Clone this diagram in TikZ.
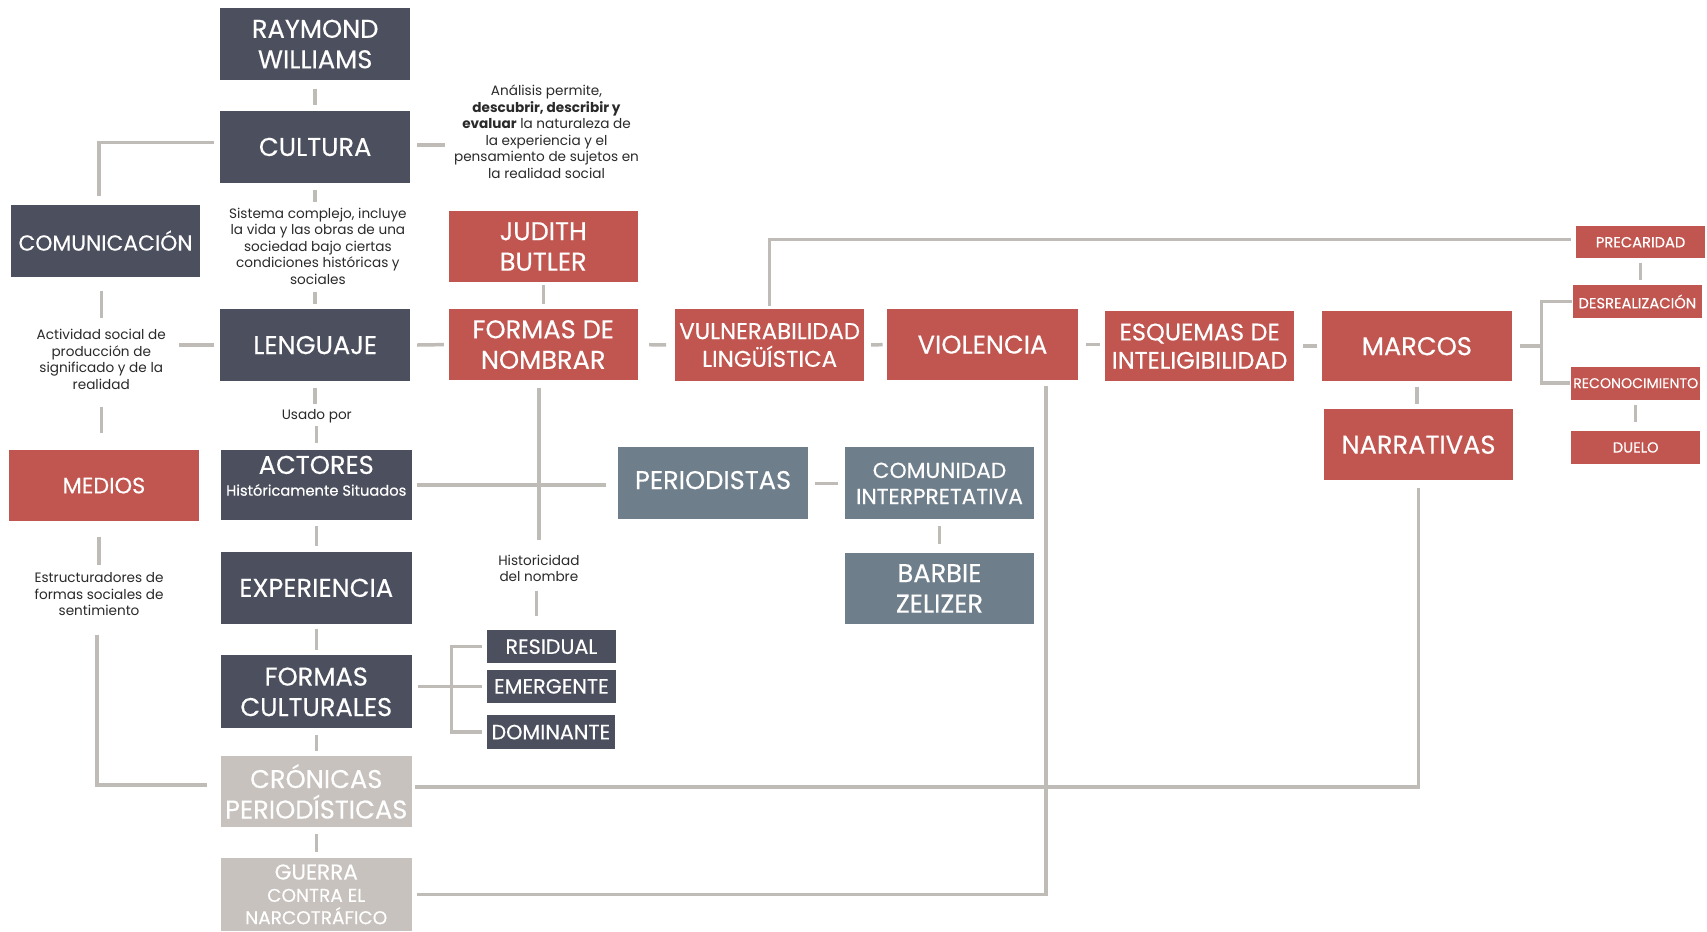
\documentclass[tikz,border=0pt]{standalone}
\usepackage{fontspec}
\setmainfont{Poppins}
\newfontfamily\bxfont{Poppins}[FakeBold=0.35]
\definecolor{dk}{HTML}{4C4F5E}
\definecolor{rd}{HTML}{C1554F}
\definecolor{sl}{HTML}{6F7E8B}
\definecolor{lg}{HTML}{C7C2BD}
\definecolor{ln}{HTML}{BFBBB7}
\definecolor{tx}{HTML}{2A2A2A}
\tikzset{
  bx/.style={inner sep=0pt, align=center, text=white, minimum width=175pt, minimum height=66pt},
  dkb/.style={bx, fill=dk},
  rdb/.style={bx, fill=rd},
  slb/.style={bx, fill=sl},
  lgb/.style={bx, fill=lg},
  big/.style={font=\bxfont\fontsize{23.6}{28}\selectfont},
  mid/.style={font=\bxfont\fontsize{20}{24}\selectfont},
  tri/.style={font=\bxfont\fontsize{19}{22}\selectfont},
  sml/.style={font=\bxfont\fontsize{13.5}{15}\selectfont},
  ann/.style={inner sep=2pt, align=center, text=tx, font=\fontsize{12.5}{15.2}\selectfont},
  conn/.style={draw=ln, line width=3.2pt},
}
\begin{document}
\begin{tikzpicture}[x=1pt,y=-1pt]
\useasboundingbox[fill=white] (0,0) rectangle (1568,856);

% boxes
\node[dkb,big] (ray) at (289.5,40.5) {RAYMOND\\WILLIAMS};
\node[dkb,big] (cul) at (289.5,135) {CULTURA};
\node[dkb,minimum width=174pt,font=\bxfont\fontsize{20}{24}\selectfont] (com) at (97,221) {COMUNICACIÓN};
\node[rdb,big,minimum width=174pt,minimum height=65pt] (jud) at (499,226.5) {JUDITH\\BUTLER};
\node[dkb,big] (len) at (289.5,317) {LENGUAJE};
\node[rdb,big,minimum width=174pt,minimum height=65pt] (fdn) at (499,316.5) {FORMAS DE\\NOMBRAR};
\node[rdb,minimum width=174pt,font=\bxfont\fontsize{21}{25.5}\selectfont] (vul) at (707,317) {VULNERABILIDAD\\LINGÜÍSTICA};
\node[rdb,big,minimum height=65pt] (vio) at (902.5,316.5) {VIOLENCIA};
\node[rdb,minimum width=174pt,minimum height=64pt,font=\bxfont\fontsize{22}{26}\selectfont] (esq) at (1102,318) {ESQUEMAS DE\\INTELIGIBILIDAD};
\node[rdb,big,minimum height=64pt] (mar) at (1301.5,318) {MARCOS};
\node[rdb,sml,minimum width=118pt,minimum height=29pt] (pre) at (1507,222.5) {PRECARIDAD};
\node[rdb,sml,minimum width=118pt,minimum height=30pt] (des) at (1504,277) {DESREALIZACIÓN};
\node[rdb,minimum width=119pt,minimum height=30pt,font=\bxfont\fontsize{13}{15}\selectfont] (rec) at (1502.5,352) {RECONOCIMIENTO};
\node[rdb,sml,minimum width=119pt,minimum height=30pt] (due) at (1502.5,411) {DUELO};
\node[rdb,big,minimum width=174pt,minimum height=65pt] (nar) at (1303,408.5) {NARRATIVAS};
\node[rdb,font=\bxfont\fontsize{20.5}{24}\selectfont] (med) at (95.5,446) {MEDIOS};
\node[dkb,minimum height=65pt,font=\bxfont\fontsize{13.5}{20}\selectfont] (act) at (290.5,445.5) {{\fontsize{23.6}{20}\selectfont ACTORES}\\Históricamente Situados\\[-3pt]};
\node[slb,big,minimum width=174pt] (per) at (655,444) {PERIODISTAS\vphantom{p}};
\node[slb,mid,minimum width=174pt] (comi) at (863,444) {COMUNIDAD\\INTERPRETATIVA};
\node[slb,big,minimum width=174pt,minimum height=65pt] (bar) at (863,540.5) {BARBIE\\ZELIZER};
\node[dkb,big] (exp) at (290.5,540) {EXPERIENCIA};
\node[dkb,big,minimum height=67pt] (foc) at (290.5,635.5) {FORMAS\\CULTURALES};
\node[dkb,tri,minimum width=119pt,minimum height=30pt] (res) at (506.5,594) {RESIDUAL};
\node[dkb,tri,minimum width=119pt,minimum height=31pt] (eme) at (506.5,630.5) {EMERGENTE};
\node[dkb,tri,minimum width=118pt,minimum height=31pt] (dom) at (506,672.5) {DOMINANTE};
\node[lgb,big] (cro) at (290.5,727) {CRÓNICAS\\PERIODÍSTICAS};
\node[lgb,minimum height=67pt,font=\bxfont\fontsize{17}{20.5}\selectfont] (gue) at (290.5,821.5) {{\fontsize{19.8}{20.5}\selectfont GUERRA}\\CONTRA EL\\NARCOTRÁFICO};

% annotations
\node[ann] (ana) at (502,121) {Análisis permite,\\{\bfseries descubrir, describir y}\\{\bfseries evaluar} la naturaleza de\\la experiencia y el\\pensamiento de sujetos en\\la realidad social};
\node[ann] (sis) at (292,226) {Sistema complejo, incluye\\la vida y las obras de una\\sociedad bajo ciertas\\condiciones históricas y\\sociales};
\node[ann] (acts) at (93,330) {Actividad social de\\producción de\\significado y de la\\realidad};
\node[ann] (usa) at (291,382) {Usado por};
\node[ann] (est) at (91,546) {Estructuradores de\\formas sociales de\\sentimiento};
\node[ann] (his) at (495,522) {Historicidad\\del nombre};

% connectors
\draw[conn, shorten <=8pt, shorten >=5pt] (ray) -- (cul);
\draw[conn] ([xshift=-5pt,yshift=4pt]cul.west) -| ([xshift=-6pt,yshift=8pt]com.north);
\draw[conn, shorten <=6pt, shorten >=6pt] ([yshift=2pt]cul.east) -- ([yshift=2pt]cul.east -| ana.west);
\draw[conn, shorten <=6pt, shorten >=3pt] (cul.south) -- (cul.south |- sis.north);
\draw[conn, shorten <=5pt, shorten >=5pt] (len.north |- sis.south) -- (len.north);
\draw[conn, shorten <=13pt, shorten >=8pt] ([xshift=-4pt]com.south) -- ([xshift=-4pt]com.south |- acts.north);
\draw[conn, shorten <=14pt, shorten >=15pt] (acts.south) -- (acts.south |- med.north);
\draw[conn, shorten <=5pt, shorten >=10pt] (len.west) -- (len.west -| acts.east);
\draw[conn, shorten <=6pt, shorten >=4pt] (len.east) -- (fdn.west);
\draw[conn, shorten <=3pt, shorten >=5pt] (jud) -- (fdn);
\draw[conn, shorten <=10pt, shorten >=8pt] (fdn.east) -- (vul.west);
\draw[conn, shorten <=6pt, shorten >=4pt] (vul.east) -- (vio.west);
\draw[conn, shorten <=7pt, shorten >=4pt] (vio.east) -- (vio.east -| esq.west);
\draw[conn, shorten <=8pt, shorten >=4pt] (esq.east) -- (mar.west);
\draw[conn] ([yshift=3pt]vul.north) |- ([xshift=-5pt,yshift=2.5pt]pre.west);
\draw[conn, shorten <=4pt, shorten >=5pt] (pre.south) -- (pre.south |- des.north);
\draw[conn] ([xshift=-1pt]des.west) -| ([xshift=-27pt]rec.west) -- ([xshift=-1pt]rec.west);
\coordinate (mj) at (1416,318);
\draw[conn, shorten >=7pt] (mj) -- (mar.east);
\draw[conn, shorten <=5pt, shorten >=8pt] (rec.south) -- (rec.south |- due.north);
\draw[conn, shorten <=5pt, shorten >=5pt] (mar.south) -- (mar.south |- nar.north);
\draw[conn] ([yshift=-7pt]nar.south) |- ([xshift=3pt,yshift=4pt]cro.east);
\draw[conn] ([xshift=58.5pt,yshift=-5pt]vio.south) |- ([xshift=5pt]gue.east);
\draw[conn, shorten <=6pt, shorten >=2pt] (len.south) -- (len.south |- usa.north);
\draw[conn, shorten <=1pt, shorten >=6pt] (act.north |- usa.south) -- (act.north);
\draw[conn, shorten <=5pt, shorten >=11pt] (act.east) -- (act.east -| per.west);
\draw[conn, shorten <=7pt, shorten >=11pt] ([xshift=-4pt]fdn.south) -- ([xshift=-4pt]fdn.south |- his.north);
\draw[conn, shorten <=6pt, shorten >=13pt] ([xshift=-2pt]his.south) -- ([xshift=-2pt]his.south |- res.north);
\draw[conn, shorten <=6pt, shorten >=6pt] (per.east) -- (comi.west);
\draw[conn, shorten <=6pt, shorten >=8pt] (comi) -- (bar);
\draw[conn, shorten <=5pt, shorten >=5pt] (act) -- (exp);
\draw[conn, shorten <=5pt, shorten >=5pt] (exp) -- (foc);
\draw[conn, shorten <=4pt, shorten >=6pt] (eme.west) -- (eme.west -| foc.east);
\draw[conn] ([xshift=-4pt]res.west) -| ([xshift=-32pt]dom.west) -- ([xshift=-4pt]dom.west);
\draw[conn, shorten <=6pt, shorten >=4pt] (foc) -- (cro);
\draw[conn, shorten <=6pt, shorten >=5pt] (cro) -- (gue);
\draw[conn, shorten <=14pt, shorten >=5pt] ([xshift=-4.5pt]med.south) -- ([xshift=-4.5pt]med.south |- est.north);
\draw[conn, shorten <=15pt] ([xshift=-2pt]est.south) |- ([xshift=-13pt,yshift=6pt]cro.west);
\end{tikzpicture}
\end{document}
